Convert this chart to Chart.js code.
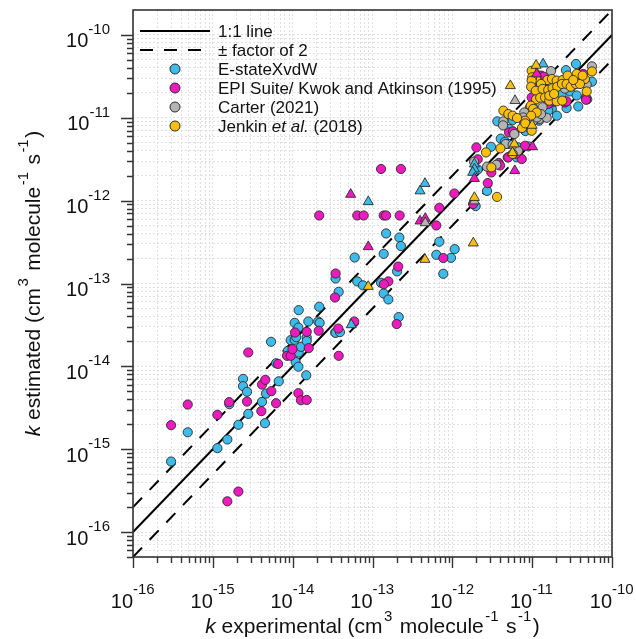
<!DOCTYPE html>
<html>
<head>
<meta charset="utf-8">
<title>k estimated vs k experimental</title>
<script src="https://cdn.jsdelivr.net/npm/chart.js@4.4.1/dist/chart.umd.min.js"></script>
<style>
  html, body { margin: 0; padding: 0; background: #fff; }
</style>
</head>
<body>
<canvas id="chart" width="636" height="639"></canvas>
<script>
// ---- values (cm3 molecule-1 s-1) ----
const estateX = [3.0e-16, 4.85e-16, 1.14e-15, 1.52e-15, 2.09e-15, 2.78e-15, 1.61e-15, 2.39e-15, 2.39e-15, 2.68e-15,
  4.13e-15, 4.64e-15, 4.5e-15, 6.7e-15, 6.2e-15, 5.36e-15, 8.67e-15, 9.45e-15, 1.09e-14, 1.18e-14,
  1.19e-14, 1.27e-14, 1.5e-14, 1.5e-14, 1.48e-14, 3.42e-14, 1.06e-14, 1.11e-14, 1.06e-14, 1.18e-14,
  1.19e-14, 1.57e-14, 2.09e-14, 2.18e-14, 2.15e-14, 3.45e-14, 3.91e-14, 3.77e-14, 5.98e-14, 6.44e-14,
  7.6e-14, 3.45e-14, 2.13e-13, 1.38e-13, 1.58e-13, 1.28e-13, 2.03e-13, 1.48e-13, 2.17e-13, 2.27e-13,
  1.38e-13, 6.87e-13, 1.07e-12, 6.3e-13, 9.62e-13, 7.7e-13, 1.96e-12, 2.72e-12, 2.08e-12, 4.04e-12,
  3.05e-12, 4.57e-12, 4.98e-12, 6.7e-12, 8.95e-12, 6.41e-12, 4.94e-12, 3.66e-12, 5.7e-12, 5.18e-12,
  8.2e-12, 1.22e-11, 1.42e-11, 1.76e-11, 1.59e-11, 2.04e-11, 2.7e-11, 3.78e-11, 5.61e-11, 3.54e-11,
  2.65e-11, 2.34e-11, 2.97e-11, 3.61e-11, 4.9e-11, 1.01e-11, 1.23e-11];
const estateY = [7.1e-16, 1.6e-15, 1.03e-15, 1.31e-15, 1.97e-15, 2.67e-15, 3.5e-15, 7.06e-15, 5.77e-15, 4.93e-15,
  3.73e-15, 4.69e-15, 2.06e-15, 6.6e-15, 1.09e-14, 1.98e-14, 1.53e-14, 2.07e-14, 1.13e-14, 0.99e-14,
  1.47e-14, 1.72e-14, 2.23e-14, 2.02e-14, 7.8e-15, 2.56e-14, 2.09e-14, 2.25e-14, 3.35e-14, 2.94e-14,
  4.77e-14, 3.48e-14, 3.48e-14, 3.35e-14, 5.24e-14, 2.54e-14, 2.59e-14, 7.94e-14, 2.06e-13, 1.06e-13,
  9.5e-14, 1.15e-13, 3.93e-14, 7.58e-14, 6.42e-14, 1.02e-13, 1.4e-13, 4.02e-13, 3.59e-13, 2.83e-13,
  2.28e-13, 3.19e-13, 2.6e-13, 2.22e-13, 2.04e-13, 1.31e-13, 8.6e-13, 1.31e-12, 2.38e-12, 5.6e-12,
  4.47e-12, 5.14e-12, 4.83e-12, 4.39e-12, 4.52e-12, 3.33e-12, 3.33e-12, 9.06e-12, 9.4e-12, 7.33e-12,
  6.93e-12, 9.22e-12, 1.03e-11, 1.28e-11, 1.22e-11, 1.06e-11, 1.31e-11, 1.37e-11, 2.73e-11, 4.46e-11,
  3.76e-11, 1.92e-11, 2.08e-11, 1.86e-11, 1.67e-11, 1.4e-11, 1.11e-11];
const estateTriX = [4.54e-13, 3.94e-13, 8.85e-14, 5.42e-14, 1.89e-12, 1.89e-12, 1.8e-12, 1.37e-11];
const estateTriY = [1.61e-12, 1.31e-12, 9.7e-13, 3.17e-14, 2.77e-12, 2.41e-12, 2.19e-12, 4.46e-11];

const epiX = [3.0e-16, 4.85e-16, 1.14e-15, 1.6e-15, 2.09e-15, 1.52e-15, 2.78e-15, 2.68e-15, 4.13e-15, 4.54e-15,
  4.05e-15, 5.41e-15, 6.2e-15, 6.56e-15, 8.5e-15, 9.45e-15, 9.95e-15, 1.07e-14, 1.5e-14, 1.59e-14,
  1.18e-14, 1.27e-14, 1.5e-14, 2.12e-14, 3.77e-14, 3.73e-14, 5.91e-14, 3.45e-14, 3.39e-14, 2.15e-14,
  6.44e-14, 7.76e-14, 1.38e-13, 1.48e-13, 2.19e-13, 1.28e-13, 2.27e-13, 6.87e-13, 6.3e-13, 2.1e-13,
  7.7e-13, 1.58e-13, 1.39e-13, 2.01e-13, 1.06e-12, 2.0e-12, 2.08e-12, 2.78e-12, 3.08e-12, 3.81e-12,
  5.03e-12, 7.4e-12, 8.14e-12, 6.28e-12, 5.13e-12, 5.76e-12, 1.76e-11, 2.57e-11, 4.72e-11, 4.72e-11,
  1.29e-11, 1.39e-11, 4.36e-11, 1.09e-11, 9.86e-12, 1.59e-11, 2.7e-11, 1.84e-11, 1.37e-11, 3.96e-12,
  1.82e-12];
const epiY = [1.95e-15, 3.46e-15, 2.6e-15, 3.7e-15, 3.08e-16, 2.35e-16, 1.47e-14, 3.76e-15, 6.03e-15, 6.87e-15,
  2.88e-15, 5.02e-15, 3.59e-15, 1.07e-14, 1.34e-14, 1.34e-14, 1.61e-14, 2.56e-14, 2.61e-14, 1.66e-14,
  4.74e-15, 3.9e-15, 3.93e-15, 2.69e-14, 1.34e-14, 2.86e-14, 3.48e-14, 1.32e-13, 6.77e-14, 6.62e-13,
  6.62e-13, 6.62e-13, 6.62e-13, 6.62e-13, 6.62e-13, 2.41e-12, 2.41e-12, 8.2e-13, 5.02e-13, 1.6e-13,
  2.03e-13, 1.06e-13, 9.8e-14, 3.24e-14, 1.22e-12, 4.39e-12, 3.16e-12, 1.63e-12, 2.19e-12, 2.85e-12,
  3.33e-12, 3.18e-12, 4.6e-12, 3.68e-12, 6.65e-12, 6.84e-12, 1.53e-11, 1.53e-11, 1.76e-11, 1.65e-11,
  3.23e-11, 3.14e-11, 3.38e-11, 2.33e-11, 1.76e-11, 1.47e-11, 1.58e-11, 1.61e-11, 2.6e-11, 2.66e-12,
  9.1e-13];
const epiTriX = [5.33e-14, 8.85e-14, 3.94e-13, 4.58e-13, 1.89e-12, 6.05e-12, 1.01e-11, 1.14e-11];
const epiTriY = [1.19e-12, 2.78e-13, 5.67e-13, 6.1e-13, 1.85e-12, 2.3e-12, 4.47e-12, 3.38e-11];

const carterX = [5.61e-11, 1.72e-11, 3.06e-11, 3.61e-11, 3.22e-11, 4.82e-11, 9.4e-12, 1.08e-11, 1.35e-11, 1.08e-11,
  1.23e-11, 1.52e-11, 7.97e-12, 7.76e-12, 7.9e-12, 9.13e-12, 4.36e-12, 1.03e-11, 1.15e-11, 1.29e-11,
  5.98e-12, 1.87e-12, 2.72e-12, 3.56e-12, 6.64e-12, 4.66e-12, 5.7e-12, 4.32e-12, 1.45e-11, 2.57e-11];
const carterY = [4.18e-11, 3.66e-11, 2.86e-11, 2.99e-11, 2.46e-11, 2.51e-11, 1.34e-11, 1.22e-11, 1.34e-11, 1.04e-11,
  9.7e-12, 1.0e-11, 1.16e-11, 1.01e-11, 8.8e-12, 7.67e-12, 9.06e-12, 9.22e-12, 1.01e-11, 1.11e-11,
  6.37e-12, 2.95e-12, 2.57e-12, 2.71e-12, 4.0e-12, 4.83e-12, 4.73e-12, 8.1e-12, 1.95e-11, 2.25e-11];
const carterTriX = [6.1e-12, 4.58e-13, 1.89e-12];
const carterTriY = [1.61e-11, 5.4e-13, 9.9e-13];

const jenkinX = [5.61e-11, 1.08e-11, 9.86e-12, 1.12e-11, 1.0e-11, 9.86e-12, 1.55e-11, 1.77e-11, 2.03e-11, 2.41e-11,
  2.78e-11, 3.61e-11, 4.58e-11, 1.29e-11, 9.7e-12, 1.11e-11, 1.35e-11, 1.59e-11, 1.8e-11, 2.06e-11,
  2.36e-11, 2.7e-11, 3.04e-11, 3.54e-11, 3.97e-11, 4.82e-11, 1.12e-11, 1.26e-11, 1.45e-11, 1.64e-11,
  2.03e-11, 2.38e-11, 1.64e-11, 1.88e-11, 9.6e-12, 1.03e-11, 1.14e-11, 9.7e-12, 8.14e-12, 9.4e-12,
  9.86e-12, 4.36e-12, 5.03e-12, 5.7e-12, 6.46e-12, 7.46e-12, 8.2e-12, 2.64e-12, 4.0e-12, 5.7e-12,
  3.08e-12, 3.63e-12, 4.29e-11, 3.27e-11];
const jenkinY = [3.63e-11, 3.5e-11, 3.7e-11, 2.97e-11, 3.08e-11, 2.81e-11, 2.86e-11, 2.94e-11, 2.81e-11, 2.86e-11,
  3.23e-11, 3.38e-11, 2.94e-11, 2.56e-11, 2.37e-11, 2.12e-11, 2.23e-11, 2.17e-11, 2.27e-11, 2.37e-11,
  2.56e-11, 2.56e-11, 2.37e-11, 2.56e-11, 2.56e-11, 2.08e-11, 1.67e-11, 1.75e-11, 1.76e-11, 1.61e-11,
  1.58e-11, 1.61e-11, 1.85e-11, 1.94e-11, 1.4e-11, 1.28e-11, 1.16e-11, 1.06e-11, 9.22e-12, 7.8e-12,
  6.98e-12, 1.22e-11, 1.11e-11, 1.06e-11, 9.95e-12, 7.53e-12, 8.57e-12, 3.82e-12, 4.27e-12, 3.66e-12,
  2.52e-12, 1.11e-12, 3.23e-11, 2.86e-11];
const jenkinTriX = [5.33e-12, 1.12e-11, 5.98e-12, 8.85e-14, 4.54e-13, 1.83e-12, 1.89e-12, 1.0e-11, 5.66e-12];
const jenkinTriY = [2.44e-11, 4.29e-11, 4.83e-12, 9.2e-14, 1.95e-13, 3.08e-13, 1.09e-12, 8.1e-12, 3.79e-12];

// axis ranges and tick labels (powers of ten)
const xMin = 1e-16, xMax = 1e-10;
const yMin = 5e-17, yMax = 2e-10;
const decades = [-16, -15, -14, -13, -12, -11, -10];
const minorSteps = [2, 3, 4, 5, 6, 7, 8, 9];

// reference lines
const refLineX = [1e-16, 1e-10];
const factor = 2;

// titles, split in runs: '' plain, 'i' italic, 's' superscript
const xTitle = [['k', 'i'], [' experimental (cm', ''], ['3', 's'], [' molecule', ''], ['-1', 's'], [' s', ''], ['-1', 's'], [')', '']];
const yTitle = [['k', 'i'], [' estimated (cm', ''], ['3', 's'], [' molecule', ''], ['-1', 's'], [' s', ''], ['-1', 's'], [')', '']];

const FONT = '"Liberation Sans", Arial, Helvetica, sans-serif';

function toPoints(xs, ys) {
    return xs.map((x, i) => ({ x: x, y: ys[i] }));
}

// 1..9 x 10^n ticks between min and max
function logTicks(min, max) {
    const ticks = [];
    for (let e = decades[0] - 1; e <= decades[decades.length - 1]; e++) {
        [1].concat(minorSteps).forEach(m => {
            const v = m * Math.pow(10, e);
            if (v >= min * 0.999 && v <= max * 1.001) ticks.push({ value: v, major: m === 1 });
        });
    }
    return ticks;
}

function scatterSet(label, xs, ys, color, style, order, legend, legendParts) {
    return {
        label: label,
        data: toPoints(xs, ys),
        backgroundColor: color,
        borderColor: '#2a2a2a',
        borderWidth: 0.9,
        pointStyle: style,
        pointRadius: style === 'triangle' ? 5.8 : 4.6,
        pointHoverRadius: style === 'triangle' ? 5.8 : 4.6,
        showLine: false,
        order: order,
        inLegend: legend,
        legendParts: legendParts
    };
}

function lineSet(label, ys, dash, legend) {
    return {
        label: label,
        data: toPoints(refLineX, ys),
        showLine: true,
        borderColor: '#000',
        backgroundColor: '#000',
        borderWidth: 2,
        borderDash: dash,
        pointRadius: 0,
        fill: false,
        order: 20,
        inLegend: legend,
        legendParts: [[label, '']]
    };
}

const BLUE = '#3DBBEA', MAGENTA = '#EE1ABF', GRAY = '#B4B4B4', YELLOW = '#FBBF0E';

// run helpers for text with italics and superscripts
function runFont(kind, size, supSize) {
    if (kind === 'i') return 'italic ' + size + 'px ' + FONT;
    if (kind === 's') return supSize + 'px ' + FONT;
    return size + 'px ' + FONT;
}

function runsWidth(ctx, parts, size, supSize) {
    let w = 0;
    parts.forEach(p => {
        ctx.font = runFont(p[1], size, supSize);
        w += ctx.measureText(p[0]).width + (p[1] === 's' ? 3 : 0);
    });
    return w;
}

function drawRuns(ctx, parts, x, y, size, supSize, raise) {
    parts.forEach(p => {
        ctx.font = runFont(p[1], size, supSize);
        if (p[1] === 's') {
            x += 1.5;
            ctx.fillText(p[0], x, y - raise);
            x += ctx.measureText(p[0]).width + 1.5;
        } else {
            ctx.fillText(p[0], x, y);
            x += ctx.measureText(p[0]).width;
        }
    });
}

const axisDecor = {
    id: 'axisDecor',
    afterDatasetsDraw(chart) {
        const { ctx, chartArea: a, scales: { x, y } } = chart;
        ctx.save();

        // frame
        ctx.strokeStyle = '#333';
        ctx.lineWidth = 1.6;
        ctx.setLineDash([]);
        ctx.strokeRect(a.left, a.top, a.right - a.left, a.bottom - a.top);

        // outside tick marks
        ctx.lineWidth = 1.4;
        ctx.beginPath();
        x.ticks.forEach(t => {
            const px = Math.round(x.getPixelForValue(t.value)) + 0.5;
            ctx.moveTo(px, a.bottom);
            ctx.lineTo(px, a.bottom + (t.major ? 11 : 6));
        });
        y.ticks.forEach(t => {
            const py = Math.round(y.getPixelForValue(t.value)) + 0.5;
            ctx.moveTo(a.left, py);
            ctx.lineTo(a.left - (t.major ? 12 : 6), py);
        });
        ctx.stroke();

        // tick labels 10^n
        ctx.fillStyle = '#111';
        ctx.textBaseline = 'alphabetic';
        decades.forEach(e => {
            const v = Math.pow(10, e);
            const exp = String(e);
            // x axis
            const px = x.getPixelForValue(v);
            ctx.font = '20px ' + FONT;
            ctx.textAlign = 'right';
            ctx.fillText('10', px, a.bottom + 50.5);
            ctx.font = '15px ' + FONT;
            ctx.textAlign = 'left';
            ctx.fillText(exp, px, a.bottom + 36.5);
            // y axis
            const py = y.getPixelForValue(v);
            const right = a.left - 23;
            ctx.font = '15px ' + FONT;
            ctx.textAlign = 'right';
            ctx.fillText(exp, right, py - 1);
            const ew = ctx.measureText(exp).width;
            ctx.font = '20px ' + FONT;
            ctx.fillText('10', right - ew, py + 12.5);
        });

        // axis titles
        ctx.textAlign = 'left';
        const xw = runsWidth(ctx, xTitle, 21, 15);
        drawRuns(ctx, xTitle, (a.left + a.right) / 2 - xw / 2, a.bottom + 76, 21, 15, 12);

        ctx.save();
        ctx.translate(a.left - 93.5, (a.top + a.bottom) / 2);
        ctx.rotate(-Math.PI / 2);
        const yw = runsWidth(ctx, yTitle, 21, 15);
        drawRuns(ctx, yTitle, -yw / 2, 0, 21, 15, 12);
        ctx.restore();

        // legend inside the plot, top left
        const items = chart.data.datasets.filter(d => d.inLegend);
        items.forEach((d, i) => {
            const cy = a.top + 21 + i * 19;
            if (d.showLine) {
                ctx.strokeStyle = d.borderColor;
                ctx.lineWidth = d.borderWidth;
                ctx.setLineDash(d.borderDash || []);
                ctx.beginPath();
                ctx.moveTo(a.left + 7, cy);
                ctx.lineTo(a.left + 77, cy);
                ctx.stroke();
                ctx.setLineDash([]);
            } else {
                ctx.beginPath();
                ctx.arc(a.left + 42, cy, 5, 0, Math.PI * 2);
                ctx.fillStyle = d.backgroundColor;
                ctx.fill();
                ctx.strokeStyle = d.borderColor;
                ctx.lineWidth = 1;
                ctx.stroke();
            }
            ctx.fillStyle = '#111';
            drawRuns(ctx, d.legendParts, a.left + 85, cy + 6, 17, 12, 6);
        });

        ctx.restore();
    }
};

new Chart(document.getElementById('chart'), {
    type: 'scatter',
    data: {
        datasets: [
            lineSet('1:1 line', refLineX, [], true),
            lineSet('\u00B1 factor of 2', refLineX.map(v => v * factor), [13, 11], true),
            lineSet('\u00B1 factor of 2 (lower)', refLineX.map(v => v / factor), [13, 11], false),
            scatterSet('E-stateXvdW', estateX, estateY, BLUE, 'circle', 9, true, [['E-stateXvdW', '']]),
            scatterSet('EPI Suite/ Kwok and Atkinson (1995)', epiX, epiY, MAGENTA, 'circle', 8, true, [['EPI Suite/ Kwok and Atkinson (1995)', '']]),
            scatterSet('Carter (2021)', carterX, carterY, GRAY, 'circle', 7, true, [['Carter (2021)', '']]),
            scatterSet('Jenkin et al. (2018)', jenkinX, jenkinY, YELLOW, 'circle', 6, true, [['Jenkin ', ''], ['et al.', 'i'], [' (2018)', '']]),
            scatterSet('E-stateXvdW (triangles)', estateTriX, estateTriY, BLUE, 'triangle', 4, false),
            scatterSet('EPI Suite (triangles)', epiTriX, epiTriY, MAGENTA, 'triangle', 3, false),
            scatterSet('Carter (triangles)', carterTriX, carterTriY, GRAY, 'triangle', 2, false),
            scatterSet('Jenkin (triangles)', jenkinTriX, jenkinTriY, YELLOW, 'triangle', 1, false)
        ]
    },
    options: {
        responsive: false,
        animation: false,
        events: [],
        layout: { padding: { top: 10, right: 24, bottom: 0, left: 0 } },
        plugins: {
            legend: { display: false },
            tooltip: { enabled: false }
        },
        scales: {
            x: {
                type: 'logarithmic',
                position: 'bottom',
                min: xMin,
                max: xMax,
                afterBuildTicks: s => { s.ticks = logTicks(xMin, xMax); },
                afterFit: s => { s.height = 82; },
                ticks: { display: false },
                grid: { color: '#e0e0e0', lineWidth: 1, drawTicks: false },
                border: { display: false, dash: [2, 2] }
            },
            y: {
                type: 'logarithmic',
                position: 'left',
                min: yMin,
                max: yMax,
                afterBuildTicks: s => { s.ticks = logTicks(yMin, Math.pow(10, decades[decades.length - 1])); },
                afterFit: s => { s.width = 133; },
                ticks: { display: false },
                grid: { color: '#e0e0e0', lineWidth: 1, drawTicks: false },
                border: { display: false, dash: [2, 2] }
            }
        }
    },
    plugins: [axisDecor]
});
</script>
</body>
</html>
